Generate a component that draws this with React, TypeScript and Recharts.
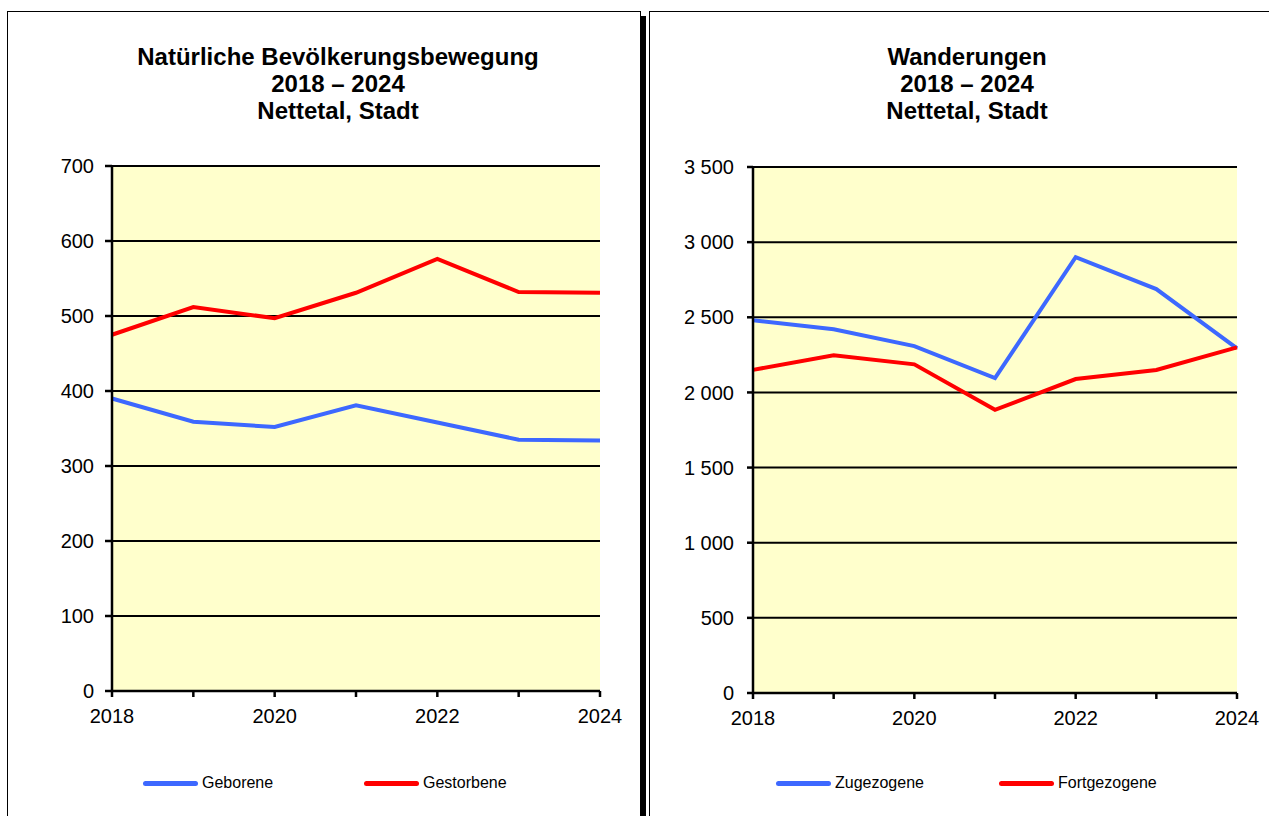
import { LineChart, Line, XAxis, YAxis, CartesianGrid } from "recharts";

const years = [2018, 2019, 2020, 2021, 2022, 2023, 2024];
const geborene = [390, 359, 352, 381, 358, 335, 334];
const gestorbene = [475, 512, 497, 531, 576, 532, 531];
const zugezogene = [2480, 2420, 2308, 2096, 2900, 2688, 2293];
const fortgezogene = [2150, 2248, 2187, 1884, 2089, 2149, 2300];

const leftTicks = [0, 100, 200, 300, 400, 500, 600, 700];
const rightTicks = [0, 500, 1000, 1500, 2000, 2500, 3000, 3500];

const leftData = years.map((y, i) => ({ year: y, geborene: geborene[i], gestorbene: gestorbene[i] }));
const rightData = years.map((y, i) => ({ year: y, zugezogene: zugezogene[i], fortgezogene: fortgezogene[i] }));

const FONT = "'Liberation Sans', Arial, sans-serif";
const BLUE = "#3D68FF";
const RED = "#FF0000";
const tickStyle = { fontSize: 20, fill: "#000", fontFamily: FONT };
const axisLine = { stroke: "#000", strokeWidth: 2.5 };

const fmtThousands = (v: number) => String(v).replace(/\B(?=(\d{3})+(?!\d))/g, " ");
const fmtYear = (v: number) => (v % 2 === 0 ? String(v) : "");

function Panel({ left, width }: { left: number; width: number }) {
  return (
    <div
      style={{
        position: "absolute",
        left,
        top: 11,
        width,
        height: 900,
        border: "1.5px solid #000",
        boxShadow: "5px 5px 0 #000",
        background: "#fff",
      }}
    />
  );
}

function Title({ cx, lines }: { cx: number; lines: string[] }) {
  return (
    <div
      style={{
        position: "absolute",
        left: cx - 250,
        width: 500,
        top: 43,
        textAlign: "center",
        fontFamily: FONT,
        fontWeight: "bold",
        fontSize: 24,
        lineHeight: "27px",
        color: "#000",
      }}
    >
      {lines.map((l) => (
        <div key={l}>{l}</div>
      ))}
    </div>
  );
}

function LegendItem({ x, color, label }: { x: number; color: string; label: string }) {
  return (
    <div style={{ position: "absolute", left: x, top: 774, display: "flex", alignItems: "center", fontFamily: FONT, fontSize: 16 }}>
      <div style={{ width: 55, height: 5, borderRadius: 3, background: color, marginRight: 4 }} />
      <span>{label}</span>
    </div>
  );
}

export default function App() {
  return (
    <div style={{ position: "fixed", left: 0, top: 0, width: 1269, height: 816, overflow: "hidden", background: "#fff" }}>
      <Panel left={7} width={632} />
      <Panel left={649} width={700} />

      <Title cx={338} lines={["Natürliche Bevölkerungsbewegung", "2018 – 2024", "Nettetal, Stadt"]} />
      <Title cx={967} lines={["Wanderungen", "2018 – 2024", "Nettetal, Stadt"]} />

      <div style={{ position: "absolute", left: 0, top: 0 }}>
        <LineChart width={640} height={740} data={leftData} margin={{ top: 166, right: 40, bottom: 19, left: 0 }}>
          <CartesianGrid yAxisId="l" vertical={false} stroke="#000" strokeWidth={2} fill="#FFFFCC" fillOpacity={1} />
          <XAxis
            dataKey="year"
            type="number"
            domain={[2018, 2024]}
            ticks={years}
            tickFormatter={fmtYear}
            height={30}
            tick={tickStyle}
            tickSize={6}
            tickMargin={12}
            axisLine={axisLine}
            tickLine={axisLine}
          />
          <YAxis
            yAxisId="l"
            width={112}
            domain={[0, 700]}
            ticks={leftTicks}
            tick={tickStyle}
            tickSize={7}
            tickMargin={11}
            axisLine={axisLine}
            tickLine={axisLine}
          />
          <YAxis yAxisId="r" orientation="right" width={0} domain={[0, 700]} tick={false} tickLine={false} axisLine={axisLine} />
          <Line yAxisId="l" type="linear" dataKey="geborene" stroke={BLUE} strokeWidth={4} dot={false} isAnimationActive={false} />
          <Line yAxisId="l" type="linear" dataKey="gestorbene" stroke={RED} strokeWidth={4} dot={false} isAnimationActive={false} />
        </LineChart>
      </div>

      <div style={{ position: "absolute", left: 640, top: 0 }}>
        <LineChart width={630} height={740} data={rightData} margin={{ top: 167, right: 33, bottom: 17, left: 0 }}>
          <CartesianGrid yAxisId="l" vertical={false} stroke="#000" strokeWidth={2} fill="#FFFFCC" fillOpacity={1} />
          <XAxis
            dataKey="year"
            type="number"
            domain={[2018, 2024]}
            ticks={years}
            tickFormatter={fmtYear}
            height={30}
            tick={tickStyle}
            tickSize={6}
            tickMargin={12}
            axisLine={axisLine}
            tickLine={axisLine}
          />
          <YAxis
            yAxisId="l"
            width={113}
            domain={[0, 3500]}
            ticks={rightTicks}
            tickFormatter={fmtThousands}
            tick={tickStyle}
            tickSize={6}
            tickMargin={13}
            axisLine={axisLine}
            tickLine={axisLine}
          />
          <YAxis yAxisId="r" orientation="right" width={0} domain={[0, 3500]} tick={false} tickLine={false} axisLine={axisLine} />
          <Line yAxisId="l" type="linear" dataKey="zugezogene" stroke={BLUE} strokeWidth={4} dot={false} isAnimationActive={false} />
          <Line yAxisId="l" type="linear" dataKey="fortgezogene" stroke={RED} strokeWidth={4} dot={false} isAnimationActive={false} />
        </LineChart>
      </div>

      <LegendItem x={143} color={BLUE} label="Geborene" />
      <LegendItem x={364} color={RED} label="Gestorbene" />
      <LegendItem x={776} color={BLUE} label="Zugezogene" />
      <LegendItem x={999} color={RED} label="Fortgezogene" />
    </div>
  );
}
